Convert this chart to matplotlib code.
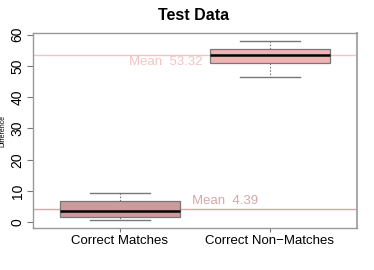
import matplotlib
matplotlib.use("Agg")
import matplotlib.pyplot as plt

plt.rcParams['font.family'] = ['Liberation Sans', 'DejaVu Sans']

categories = ["Correct Matches", "Correct Non\u2212Matches"]
whisker_low = [0.6, 46.4]
q1 = [1.7, 50.9]
medians = [3.5, 53.6]
q3 = [6.9, 55.4]
whisker_high = [9.4, 58.1]
means = [4.39, 53.32]
box_colors = ["#CD9B9B", "#EEB4B4"]
mean_colors = ["#D8A8A8", "#F2C4C4"]
yticks = [0, 10, 20, 30, 40, 50, 60]

fig = plt.figure(figsize=(3.74, 2.70), dpi=100)
ax = fig.add_axes([33/374, 1-228/270, (357-33)/374, (228-33)/270])

stats = []
for i in range(len(categories)):
    stats.append(dict(whislo=whisker_low[i], q1=q1[i], med=medians[i],
                      q3=q3[i], whishi=whisker_high[i], fliers=[]))

# mean lines
for i, m in enumerate(means):
    ax.axhline(m, color=mean_colors[i], lw=1.0, zorder=1)

bp = ax.bxp(stats, positions=[1, 2], widths=0.8, patch_artist=True,
            showfliers=False,
            boxprops=dict(edgecolor="#777777", lw=0.9),
            medianprops=dict(color="black", lw=1.8),
            whiskerprops=dict(color="#777777", lw=0.8, linestyle=(0, (1.5, 1.5))),
            capprops=dict(color="#777777", lw=1.0), capwidths=0.4)
for patch, c in zip(bp['boxes'], box_colors):
    patch.set_facecolor(c)
    patch.set_zorder(2)

ax.text(1.553, means[1] - 2.2, "Mean  %.2f" % means[1], color=mean_colors[1],
        fontsize=9.5, ha="right", va="center")
ax.text(1.478, means[0] + 2.5, "Mean  %.2f" % means[0], color=mean_colors[0],
        fontsize=9.5, ha="left", va="center")

ax.set_xlim(0.42, 2.58)
ax.set_ylim(-1.8, 60.5)
ax.set_yticks(yticks)
ax.set_yticklabels([str(t) for t in yticks], rotation=90, va="center", fontsize=10)
ax.set_xticks([1, 2])
ax.set_xticklabels(categories, fontsize=9.5)
ax.tick_params(axis="both", color="#777777", length=4, width=0.8)
ax.tick_params(axis="x", length=3, pad=2)
ax.tick_params(axis="y", pad=2)
for s in ax.spines.values():
    s.set_color("#999999")
    s.set_linewidth(1.0)
ax.spines['right'].set_color("#AAAAAA")
ax.spines['right'].set_linewidth(1.5)

ax.set_ylabel("Difference", fontsize=5)
ax.yaxis.set_label_coords(-0.083, 0.5)
fig.text(194/374, 1-15/270, "Test Data", ha="center", va="center",
         fontsize=11.5, fontweight="bold")

fig.savefig("out.png", dpi=100)
